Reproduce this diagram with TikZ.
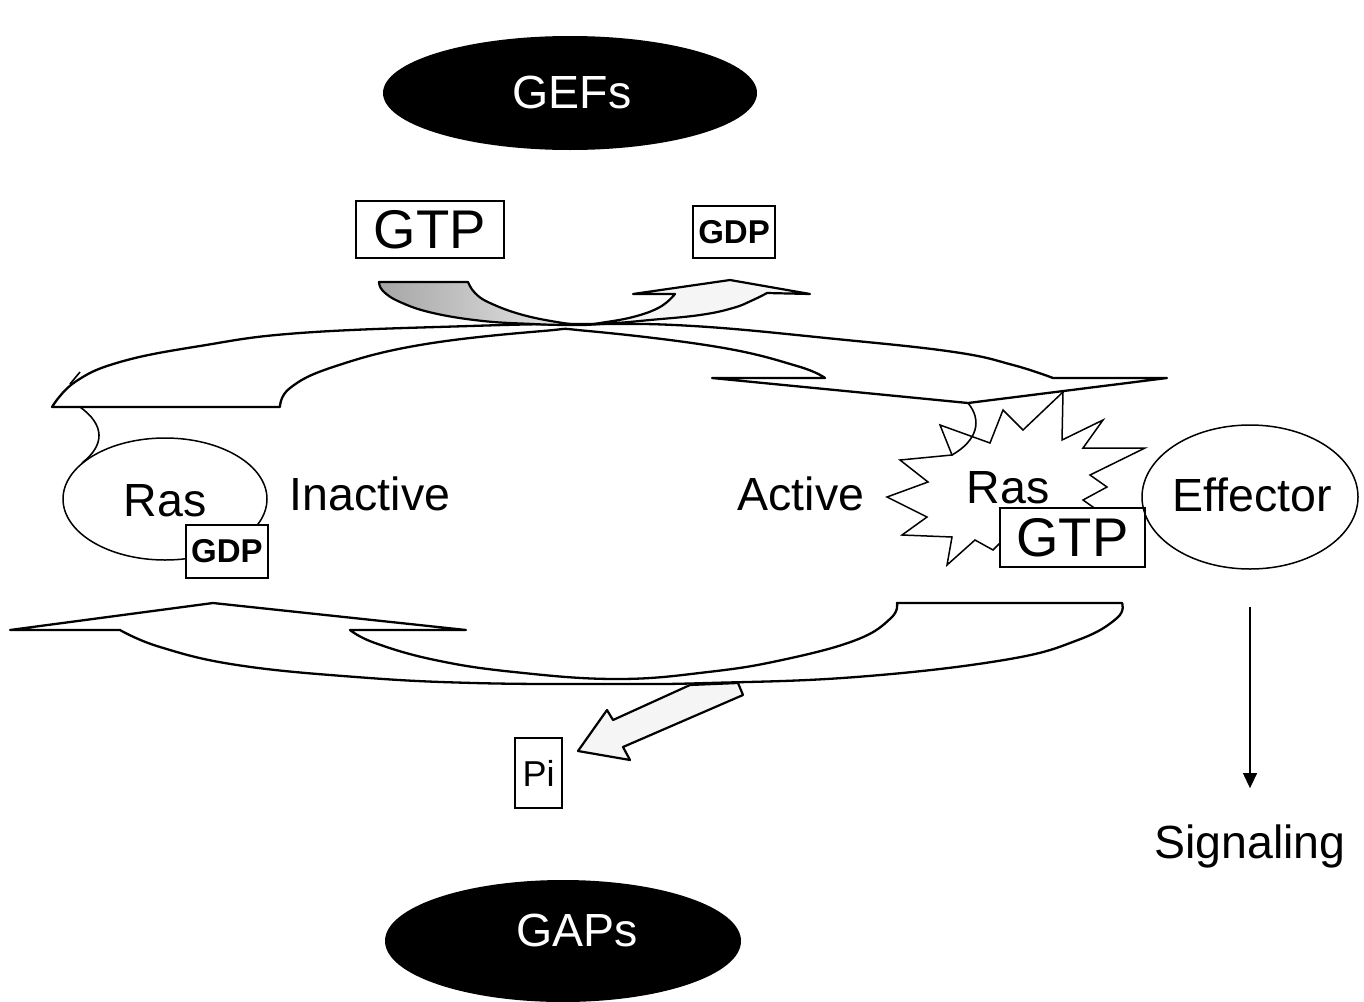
\documentclass[tikz,border=0pt]{standalone}
\usepackage{fontspec}
\setmainfont{Liberation Sans}
\usetikzlibrary{arrows.meta,shapes.geometric}

\newcommand\txtL{\fontsize{46.5}{52}\selectfont}
\newcommand\txtG{\fontsize{54.5}{60}\selectfont}
\newcommand\txtS{\fontsize{33}{38}\selectfont}
\newcommand\txtP{\fontsize{36}{40}\selectfont}

\begin{document}
\begin{tikzpicture}[x=1pt,y=-1pt,
  arcshape/.style={draw=black, fill=white, line width=2.3pt, line join=round},
  lightarrow/.style={draw=black, fill=gray!8, line width=2.2pt, line join=round},
  blob/.style={ellipse, fill=black, inner sep=0pt},
  oval/.style={ellipse, draw, line width=1.5pt, inner sep=0pt},
  tag/.style={draw, line width=1.8pt, fill=white, inner sep=0pt},
  lbl/.style={inner sep=0pt, anchor=base, font=\txtL},
  link/.style={line width=1.6pt},
]
\useasboundingbox (0,0) rectangle (1364,1001);

% regulators
\node[blob, minimum width=374pt, minimum height=114pt] (gefs) at (570,93) {};
\node[lbl, text=white] (gefsT) at (572,108) {GEFs};
\node[blob, minimum width=356pt, minimum height=122pt] (gaps) at (563,941) {};
\node[lbl, text=white] (gapsT) at (577,946) {GAPs};

% nucleotides exchanged at GEFs
\node[tag, minimum width=148pt, minimum height=57pt, font=\txtG] (gtpIn) at (430,229.5) {GTP};
\node[tag, minimum width=82pt, minimum height=52pt, font=\txtS\bfseries] (gdpOut) at (734,232) {GDP};

% upper cycle arrow: inactive -> active
\filldraw[arcshape] (52,407) -- (280,407)
  -- plot[smooth, tension=0.7] coordinates {(280,407) (290,388) (333,367) (420,345) (543,331) (588,331) (718,347) (797,366) (825,378)}
  -- (712,378) -- (968,403) -- (1167,378) -- (1053,378)
  -- plot[smooth, tension=0.7] coordinates {(1053,378) (1013,365) (954,352) (836,339) (693,326) (585,324) (470,326) (300,333) (200,346) (120,362) (75,382) (52,407)}
  -- cycle;
\draw[link] (70,384) -- (80,372);

% GTP entering
\shadedraw[left color=gray!70, right color=gray!15, draw=black, line width=2.2pt, line join=round]
  (379,282) -- (468,282)
  -- plot[smooth, tension=0.7] coordinates {(468,282) (475,293) (490,303) (523,315) (563,323) (585,325)}
  -- plot[smooth, tension=0.7] coordinates {(585,325) (563,325) (533,324) (483,321) (433,313) (400,302) (383,291) (379,282)}
  -- cycle;

% GDP leaving
\filldraw[lightarrow] (585,325)
  -- plot[smooth, tension=0.7] coordinates {(585,325) (617,323) (650,320) (700,315) (733,308) (753,300) (767,293)}
  -- (810,294) -- (730,280) -- (633,294) -- (675,294)
  -- plot[smooth, tension=0.7] coordinates {(675,294) (660,307) (633,317) (600,323) (585,325)}
  -- cycle;

% lower cycle arrow: active -> inactive
\filldraw[arcshape] (897,603) -- (1122,603)
  -- plot[smooth, tension=0.7] coordinates {(1122,603) (1117,618) (1078,640) (1004,660) (856,677) (708,683) (617,684) (474,683) (356,677) (237,665) (160,647) (120,630)}
  -- (10,630) -- (213,603) -- (466,630) -- (350,630)
  -- plot[smooth, tension=0.7] coordinates {(350,630) (375,643) (435,660) (514,672) (617,679) (708,672) (782,660) (856,640) (891,618) (897,603)}
  -- cycle;

% phosphate release
\filldraw[lightarrow] (690,685) -- (613,720) -- (607,710) -- (578,751) -- (630,760) -- (623,747) -- (743,695) -- (738,683) -- cycle;
\node[tag, minimum width=47pt, minimum height=70pt, font=\txtP] (pi) at (538.5,773) {Pi};

% inactive Ras
\node[oval, minimum width=204pt, minimum height=122pt] (rasOff) at (165,499) {};
\node[lbl] (rasOffT) at (165,516) {Ras};
\draw[link] (80,407) .. controls (105,425) and (105,445) .. (82,463);
\node[tag, minimum width=82pt, minimum height=53pt, font=\txtS\bfseries] (gdpBound) at (227,551.5) {GDP};
\node[lbl] (inactive) at (370,510) {Inactive};

% active Ras
\draw[line width=1.5pt, line join=miter]
  (1063,392) -- (1062,440) -- (1103,420) -- (1083,448) -- (1145,448) -- (1090,475)
  -- (1107,487) -- (1083,500) -- (1100,512) -- (1060,530) -- (1020,545) -- (1000,543)
  -- (993,550) -- (975,540) -- (947,565) -- (952,537) -- (902,535) -- (927,517)
  -- (887,497) -- (928,482) -- (900,460) -- (952,455) -- (940,425) -- (990,443)
  -- (1003,410) -- (1023,430) -- cycle;
\draw[link] (968,403) .. controls (982,420) and (978,440) .. (952,455);
\node[lbl] (rasOnT) at (1008,503) {Ras};
\node[tag, minimum width=145pt, minimum height=59pt, font=\txtG] (gtpBound) at (1072.5,537.5) {GTP};
\node[lbl] (active) at (801,510) {Active};

% downstream signalling
\node[oval, minimum width=216pt, minimum height=144pt] (eff) at (1250,497) {};
\node[lbl] (effT) at (1252,511) {Effector};
\node[lbl] (sig) at (1250,858) {Signaling};
\draw[line width=1.2pt, -{Triangle[length=15pt,width=14pt]}] ([yshift=-37pt]eff.south) -- ([yshift=36pt]sig.north);
\end{tikzpicture}
\end{document}
